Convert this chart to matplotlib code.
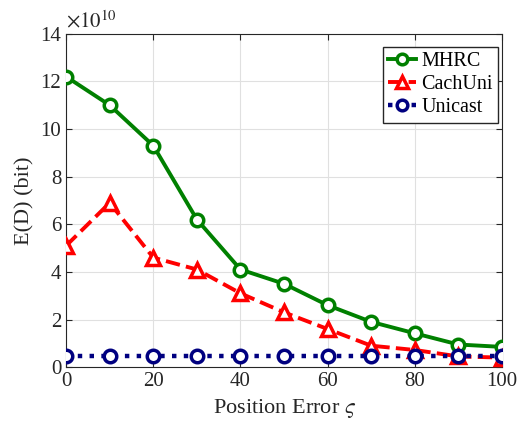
import numpy as np
import matplotlib.pyplot as plt

plt.rcParams['font.family'] = 'Liberation Serif'
plt.rcParams['mathtext.fontset'] = 'stix'

pos_err = [0, 10, 20, 30, 40, 50, 60, 70, 80, 90, 100]
mhrc = [12.2, 11.0, 9.3, 6.2, 4.1, 3.5, 2.6, 1.9, 1.42, 0.95, 0.85]
cachuni = [5.1, 6.9, 4.6, 4.1, 3.1, 2.3, 1.6, 0.9, 0.72, 0.45, 0.4]
unicast = [0.45] * 11

fig, ax = plt.subplots(figsize=(5.29, 4.22), dpi=100)
fig.subplots_adjust(left=0.125, right=0.949, top=0.92, bottom=0.13)

ax.plot(pos_err, mhrc, '-o', color='#008000', lw=2.8, ms=9, mfc='white', mew=2.5, label='MHRC', zorder=3)
ax.plot(pos_err, cachuni, '--^', color='#ff0000', lw=2.8, ms=10, mfc='white', mew=2.5, label='CachUni', zorder=3)
ax.plot(pos_err, unicast, ':o', color='#000080', lw=3.2, ms=9, mfc='white', mew=2.5, label='Unicast', zorder=3)

ax.set_xlim(0, 100)
ax.set_ylim(0, 14)
ax.set_xticks(np.arange(0, 101, 20))
ax.set_yticks(np.arange(0, 15, 2))
ax.tick_params(direction='in', top=True, right=True, labelsize=15, colors='#262626', length=4)
ax.grid(True, color='#e0e0e0', lw=0.8)
ax.set_axisbelow(True)
for s in ax.spines.values():
    s.set_color('#262626')

ax.set_xlabel('Position Error $\\varsigma$', fontsize=16, color='#262626', labelpad=4)
ax.set_ylabel('E(D) (bit)', fontsize=16, color='#262626')
ax.text(0.0, 1.005, r'$\times 10^{10}$', transform=ax.transAxes, fontsize=15, color='#262626', va='bottom', ha='left')

leg = ax.legend(loc='upper right', bbox_to_anchor=(0.99, 0.96), fontsize=14.5, fancybox=False,
                edgecolor='#262626', framealpha=1, handlelength=1.4, handletextpad=0.25,
                borderpad=0.25, labelspacing=0.2, borderaxespad=0.0, markerscale=0.85)
leg.get_frame().set_linewidth(1.0)

fig.savefig('out.png', dpi=100)
